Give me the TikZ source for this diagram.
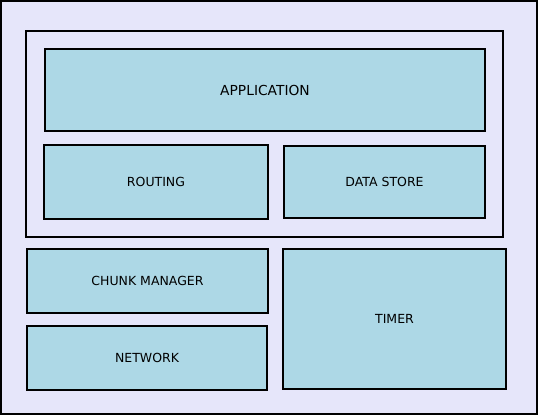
\documentclass[tikz,border=0pt]{standalone}
\usepackage{fontspec}
\setmainfont{DejaVu Sans}
\tikzset{
  panel/.style={draw=black, line width=2pt, fill=none, outer sep=0pt, inner sep=0pt, anchor=north west},
  blk/.style={draw=black, line width=2pt, fill=lightblue, outer sep=0pt, inner sep=0pt, anchor=north west, font=\fontsize{12.5}{15}\selectfont},
  bigblk/.style={blk, font=\fontsize{13.8}{16}\selectfont}
}
\definecolor{lightblue}{HTML}{ADD8E6}
\definecolor{lavender}{HTML}{E6E6FA}
\begin{document}
\begin{tikzpicture}[x=1pt,y=-1pt]
\useasboundingbox (0,0) rectangle (540,417);
\node[panel, fill=lavender, minimum width=536pt, minimum height=413pt] (outer) at (1,1) {};
\node[panel, minimum width=477pt, minimum height=206pt] (container) at (26,31) {};
\node[bigblk, minimum width=440pt, minimum height=82pt] (app) at (45,49) {APPLICATION};
\node[blk, minimum width=224pt, minimum height=74pt] (routing) at (44,145) {ROUTING};
\node[blk, minimum width=201pt, minimum height=72pt] (store) at (284,146) {DATA STORE};
\node[blk, minimum width=241pt, minimum height=64pt] (chunk) at (27,249) {CHUNK MANAGER};
\node[blk, minimum width=240pt, minimum height=64pt] (network) at (27,326) {NETWORK};
\node[blk, minimum width=223pt, minimum height=140pt] (timer) at (283,249) {TIMER};
\end{tikzpicture}
\end{document}
